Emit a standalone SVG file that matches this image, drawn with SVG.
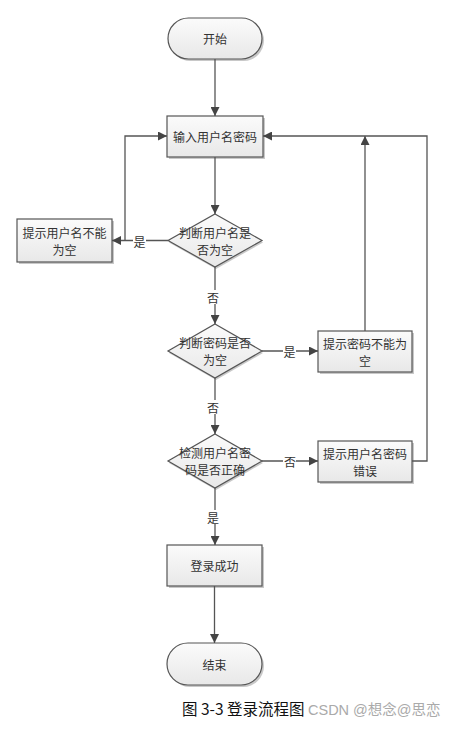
<svg xmlns="http://www.w3.org/2000/svg" width="452" height="729" viewBox="0 0 452 729">
<style>
.sh{fill:#9a9a9a;opacity:0.55}
.nd{fill:url(#g);stroke:#555;stroke-width:1.2}
.t{font-family:"Noto Sans CJK SC","Liberation Sans",sans-serif;font-size:12px;fill:#333;text-anchor:middle;dominant-baseline:central}
.c{fill:none;stroke:#555;stroke-width:1.3}
.lb{font-family:"Noto Sans CJK SC","Liberation Sans",sans-serif;font-size:12px;fill:#333;text-anchor:middle;dominant-baseline:central}
</style>
<defs>
<linearGradient id="g" x1="0" y1="0" x2="0" y2="1">
<stop offset="0" stop-color="#fbfbfb"/>
<stop offset="1" stop-color="#e8e8e8"/>
</linearGradient>
<marker id="a" viewBox="0 0 10 10" refX="10" refY="5" markerWidth="10" markerHeight="9" markerUnits="userSpaceOnUse" orient="auto">
<path d="M0,0 L10,5 L0,10 z" fill="#444"/>
</marker>
</defs>
<rect width="452" height="729" fill="#fff"/>

<g id="start">
<rect class="sh" x="170" y="20" width="94" height="41" rx="20.5"/>
<rect class="nd" x="168" y="18" width="94" height="41" rx="20.5"/>
<text class="t" x="215" y="38.5">开始</text>
</g>

<g id="input">
<rect class="sh" x="169" y="118" width="96" height="41"/>
<rect class="nd" x="167" y="116" width="96" height="41"/>
<text class="t" x="215" y="136.5">输入用户名密码</text>
</g>

<g id="check-user">
<polygon class="sh" points="216,216 263,242.5 216,269 169,242.5"/>
<polygon class="nd" points="215,214 262,240.5 215,267 168,240.5"/>
<text class="t" x="215" y="232">判断用户名是</text>
<text class="t" x="215" y="249">否为空</text>
</g>

<g id="user-empty">
<rect class="sh" x="19" y="221" width="95" height="43"/>
<rect class="nd" x="17" y="219" width="95" height="43"/>
<text class="t" x="64.5" y="232">提示用户名不能</text>
<text class="t" x="64.5" y="249">为空</text>
</g>

<g id="check-pwd">
<polygon class="sh" points="216,326 263,353 216,380 169,353"/>
<polygon class="nd" points="215,324 262,351 215,378 168,351"/>
<text class="t" x="215" y="342.5">判断密码是否</text>
<text class="t" x="215" y="359.5">为空</text>
</g>

<g id="pwd-empty">
<rect class="sh" x="320" y="333" width="94" height="41"/>
<rect class="nd" x="318" y="331" width="94" height="41"/>
<text class="t" x="365" y="343">提示密码不能为</text>
<text class="t" x="365" y="360">空</text>
</g>

<g id="check-correct">
<polygon class="sh" points="216,436 263,463 216,490 169,463"/>
<polygon class="nd" points="215,434 262,461 215,488 168,461"/>
<text class="t" x="215" y="452.5">检测用户名密</text>
<text class="t" x="215" y="469.5">码是否正确</text>
</g>

<g id="wrong">
<rect class="sh" x="320" y="443" width="94" height="41"/>
<rect class="nd" x="318" y="441" width="94" height="41"/>
<text class="t" x="365" y="453">提示用户名密码</text>
<text class="t" x="365" y="470">错误</text>
</g>

<g id="success">
<rect class="sh" x="169" y="547" width="95" height="41"/>
<rect class="nd" x="167" y="545" width="95" height="41"/>
<text class="t" x="214.5" y="565.5">登录成功</text>
</g>

<g id="end">
<rect class="sh" x="169" y="645" width="95" height="42" rx="21"/>
<rect class="nd" x="167" y="643" width="95" height="42" rx="21"/>
<text class="t" x="214.5" y="664">结束</text>
</g>

<g id="connectors">
<path class="c" d="M215,59 V116" marker-end="url(#a)"/>
<path class="c" d="M215,157 V214" marker-end="url(#a)"/>
<path class="c" d="M168,240.5 H112" marker-end="url(#a)"/>
<path class="c" d="M125,240.5 V136 H167" marker-end="url(#a)"/>
<path class="c" d="M215,267 V324" marker-end="url(#a)"/>
<path class="c" d="M262,351 H318" marker-end="url(#a)"/>
<path class="c" d="M365,331 V136" marker-end="url(#a)"/>
<path class="c" d="M215,378 V434" marker-end="url(#a)"/>
<path class="c" d="M262,461 H318" marker-end="url(#a)"/>
<path class="c" d="M412,461 H427 V136 H263" marker-end="url(#a)"/>
<path class="c" d="M215,488 V545" marker-end="url(#a)"/>
<path class="c" d="M214.5,586 V643" marker-end="url(#a)"/>
<rect x="133" y="234" width="13" height="14" fill="#fff"/>
<text class="lb" x="139.5" y="241">是</text>
<rect x="207" y="290" width="13" height="14" fill="#fff"/>
<text class="lb" x="213" y="297">否</text>
<rect x="283" y="344" width="13" height="14" fill="#fff"/>
<text class="lb" x="289.5" y="351">是</text>
<rect x="207" y="400" width="13" height="14" fill="#fff"/>
<text class="lb" x="213" y="407">否</text>
<rect x="283" y="454" width="13" height="14" fill="#fff"/>
<text class="lb" x="290" y="461">否</text>
<rect x="207" y="510" width="13" height="14" fill="#fff"/>
<text class="lb" x="213" y="517">是</text>
</g>

<text x="182" y="715" font-family="Noto Sans CJK SC,Liberation Sans,sans-serif" font-size="15.5" fill="#111">图 3-3 登录流程图</text>
<text x="308" y="715" font-family="Liberation Sans,Noto Sans CJK SC,sans-serif" font-size="14.5" fill="#aaa">CSDN @想念@思恋</text>
</svg>
